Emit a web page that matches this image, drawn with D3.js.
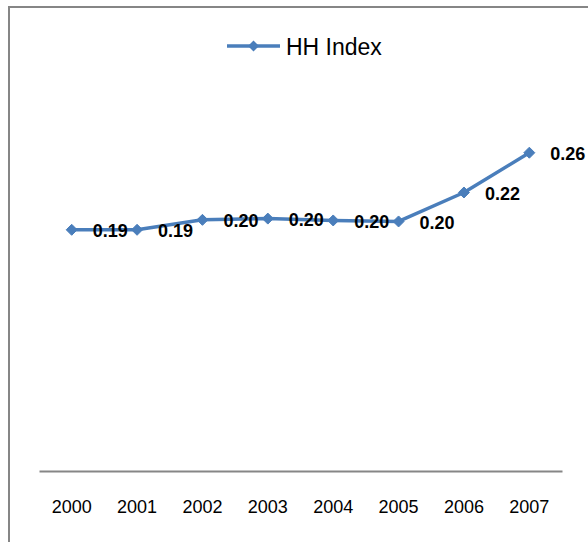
<!DOCTYPE html>
<html>
<head>
<meta charset="utf-8">
<script src="https://d3js.org/d3.v7.min.js"></script>
<style>
  body { margin: 0; background: #fff; }
  svg { display: block; }
</style>
</head>
<body>
<svg id="chart" width="588" height="542"></svg>
<script>
// Values (labels are rounded to 2 places)
var years = ["2000", "2001", "2002", "2003", "2004", "2005", "2006", "2007"];
var hhIndex = [0.194, 0.194, 0.202, 0.203, 0.2015, 0.2007, 0.224, 0.256];
var seriesName = "HH Index";

function renderHHChart(targetElement) {
  /* Excel style line chart with a hidden value axis. */
  var svg = d3.select(targetElement),
    margin = {top: 98, right: 26, bottom: 71, left: 39},
    width = svg.attr("width") - margin.left - margin.right,
    height = svg.attr("height") - margin.top - margin.bottom;

  var blue = "#4a7ebb",
    grey = "#868686";

  // chart frame, runs off the right and bottom of the picture
  svg.append("rect")
    .attr("x", 9)
    .attr("y", 7)
    .attr("width", 600)
    .attr("height", 560)
    .attr("fill", "none")
    .attr("stroke", grey)
    .attr("stroke-width", 2);

  var x = d3.scaleBand().domain(years).range([0, width]);
  var y = d3.scaleLinear().domain([0, 0.3]).range([height, 0]);

  var g = svg.append("g")
    .attr("transform", "translate(" + margin.left + ", " + margin.top + ")");

  // X Axis - just the line and the year labels, no ticks
  var xAxis = g.append("g")
    .attr("transform", "translate(0, " + height + ")")
    .call(d3.axisBottom(x).tickSize(0).tickPadding(0));
  xAxis.select(".domain")
    .attr("stroke", grey)
    .attr("stroke-width", 2);
  xAxis.selectAll("text")
    .attr("dy", null)
    .attr("y", 42)
    .attr("fill", "#000")
    .attr("font-size", "18")
    .attr("font-family", "Liberation Sans, Arial, sans-serif");

  var pts = years.map(function(d, i) { return {year: d, value: hhIndex[i]}; });
  var cx = function(d) { return x(d.year) + x.bandwidth() / 2; };

  var line = d3.line()
    .x(cx)
    .y(function(d) { return y(d.value); });

  g.append("path")
    .datum(pts)
    .attr("d", line)
    .attr("fill", "none")
    .attr("stroke", blue)
    .attr("stroke-width", 3.5)
    .attr("stroke-linejoin", "round");

  var diamond = "M0,-5.5L5.5,0L0,5.5L-5.5,0Z";

  g.selectAll(".marker")
    .data(pts)
    .enter().append("path")
      .attr("class", "marker")
      .attr("d", diamond)
      .attr("transform", function(d) { return "translate(" + cx(d) + "," + y(d.value) + ")"; })
      .attr("fill", blue)
      .attr("stroke", blue)
      .attr("stroke-width", 1);

  // data labels, placed right of each point
  g.selectAll(".dlabel")
    .data(pts)
    .enter().append("text")
      .attr("class", "dlabel")
      .attr("x", function(d) { return cx(d) + 21; })
      .attr("y", function(d) { return y(d.value) + 7.5; })
      .attr("font-size", "18")
      .attr("font-weight", "bold")
      .attr("font-family", "Liberation Sans, Arial, sans-serif")
      .attr("fill", "#000")
      .text(function(d) { return d.value.toFixed(2); });

  // Legend at the top
  var lg = svg.append("g")
    .attr("transform", "translate(227, 46)");
  lg.append("line")
    .attr("x1", 0).attr("x2", 53)
    .attr("y1", 0).attr("y2", 0)
    .attr("stroke", blue)
    .attr("stroke-width", 3.5);
  lg.append("path")
    .attr("d", diamond)
    .attr("transform", "translate(26.5, 0)")
    .attr("fill", blue);
  lg.append("text")
    .attr("x", 59)
    .attr("y", 9)
    .attr("font-size", "23")
    .attr("font-family", "Liberation Sans, Arial, sans-serif")
    .attr("fill", "#000")
    .text(seriesName);
}

renderHHChart("#chart");
</script>
</body>
</html>
